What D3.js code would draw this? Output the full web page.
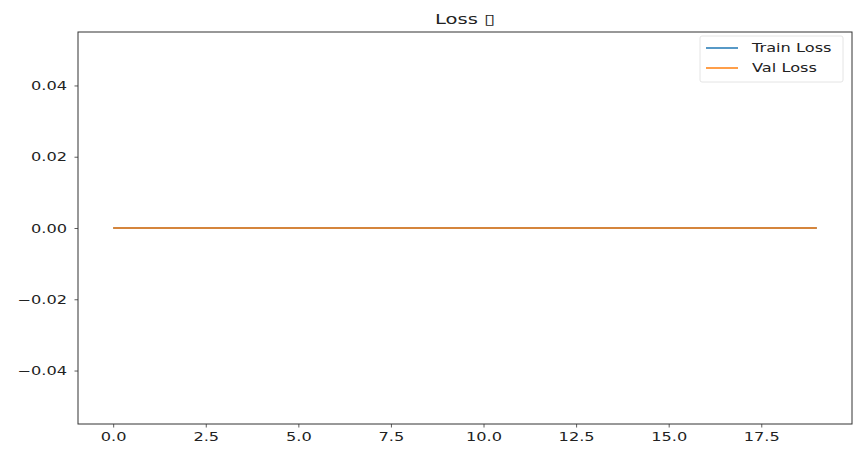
<!DOCTYPE html>
<html>
<head>
<meta charset="utf-8">
<script src="https://cdn.jsdelivr.net/npm/d3@7"></script>
<style>
  html, body { margin: 0; padding: 0; background: #fff; }
  svg { display: block; }
  text { font-family: "DejaVu Sans", sans-serif; fill: #222; }
</style>
</head>
<body>
<svg id="chart" width="854" height="450"></svg>
<script>
// Loss per epoch (20 epochs)
const epochs = d3.range(0, 20);
const trainLoss = [0, 0, 0, 0, 0, 0, 0, 0, 0, 0, 0, 0, 0, 0, 0, 0, 0, 0, 0, 0];
const valLoss   = [0, 0, 0, 0, 0, 0, 0, 0, 0, 0, 0, 0, 0, 0, 0, 0, 0, 0, 0, 0];
const xTicks = [0, 2.5, 5, 7.5, 10, 12.5, 15, 17.5];
const yTicks = [-0.04, -0.02, 0, 0.02, 0.04];
const seriesNames = ["Train Loss", "Val Loss"];
const seriesColors = ["#1f77b4", "#ff7f0e"];
const titleText = "Loss \u25AF";

const W = 854, H = 450;
const margin = { left: 78, right: 2, top: 32, bottom: 26 };
const SX = 1.35; // horizontal text stretch

const svg = d3.select("#chart");
const x = d3.scaleLinear().domain([-0.95, 19.95]).range([margin.left, W - margin.right]);
const y = d3.scaleLinear().domain([-0.055, 0.055]).range([H - margin.bottom, margin.top]);

function stretchedText(g, tx, ty, str, anchor, size) {
  return g.append("text")
    .attr("transform", `translate(${tx},${ty}) scale(${SX},1)`)
    .attr("text-anchor", anchor)
    .style("font-size", size + "px")
    .text(str);
}

// Axes
const xAxis = svg.append("g")
  .attr("transform", `translate(0,${H - margin.bottom})`)
  .call(d3.axisBottom(x).tickValues(xTicks).tickSize(3.5).tickFormat(d3.format(".1f")));
xAxis.selectAll("text").remove();
xAxis.selectAll(".tick").each(function(d) {
  stretchedText(d3.select(this), 0, 17, d3.format(".1f")(d), "middle", 12);
});

const yAxis = svg.append("g")
  .attr("transform", `translate(${margin.left},0)`)
  .call(d3.axisLeft(y).tickValues(yTicks).tickSize(3.5));
yAxis.selectAll("text").remove();
yAxis.selectAll(".tick").each(function(d) {
  stretchedText(d3.select(this), -11, 4, d3.format(".2f")(d).replace("-", "\u2212"), "end", 12);
});

svg.selectAll(".domain").remove();
svg.selectAll(".tick line").attr("stroke", "#333").attr("stroke-width", 0.8);

// Frame
svg.append("rect")
  .attr("x", margin.left).attr("y", margin.top)
  .attr("width", W - margin.left - margin.right)
  .attr("height", H - margin.top - margin.bottom)
  .attr("fill", "none").attr("stroke", "#333").attr("stroke-width", 1);

// Lines
const line = d3.line().x((d, i) => x(epochs[i])).y(d => y(d));
[trainLoss, valLoss].forEach((s, i) => {
  svg.append("path").datum(s)
    .attr("d", line)
    .attr("fill", "none")
    .attr("stroke", seriesColors[i])
    .attr("stroke-width", 1.5);
});

// Title
stretchedText(svg, (margin.left + W - margin.right) / 2, 24, titleText, "middle", 14.5);

// Legend
const lg = svg.append("g").attr("transform", "translate(700,36)");
lg.append("rect").attr("width", 143).attr("height", 46).attr("rx", 2)
  .attr("fill", "#fff").attr("fill-opacity", 0.8)
  .attr("stroke", "#ddd").attr("stroke-width", 0.8);
seriesNames.forEach((n, i) => {
  const yy = 12 + i * 20;
  lg.append("line").attr("x1", 6).attr("x2", 38).attr("y1", yy).attr("y2", yy)
    .attr("stroke", seriesColors[i]).attr("stroke-width", 1.5);
  stretchedText(lg, 52, yy + 4, n, "start", 12);
});
</script>
</body>
</html>
